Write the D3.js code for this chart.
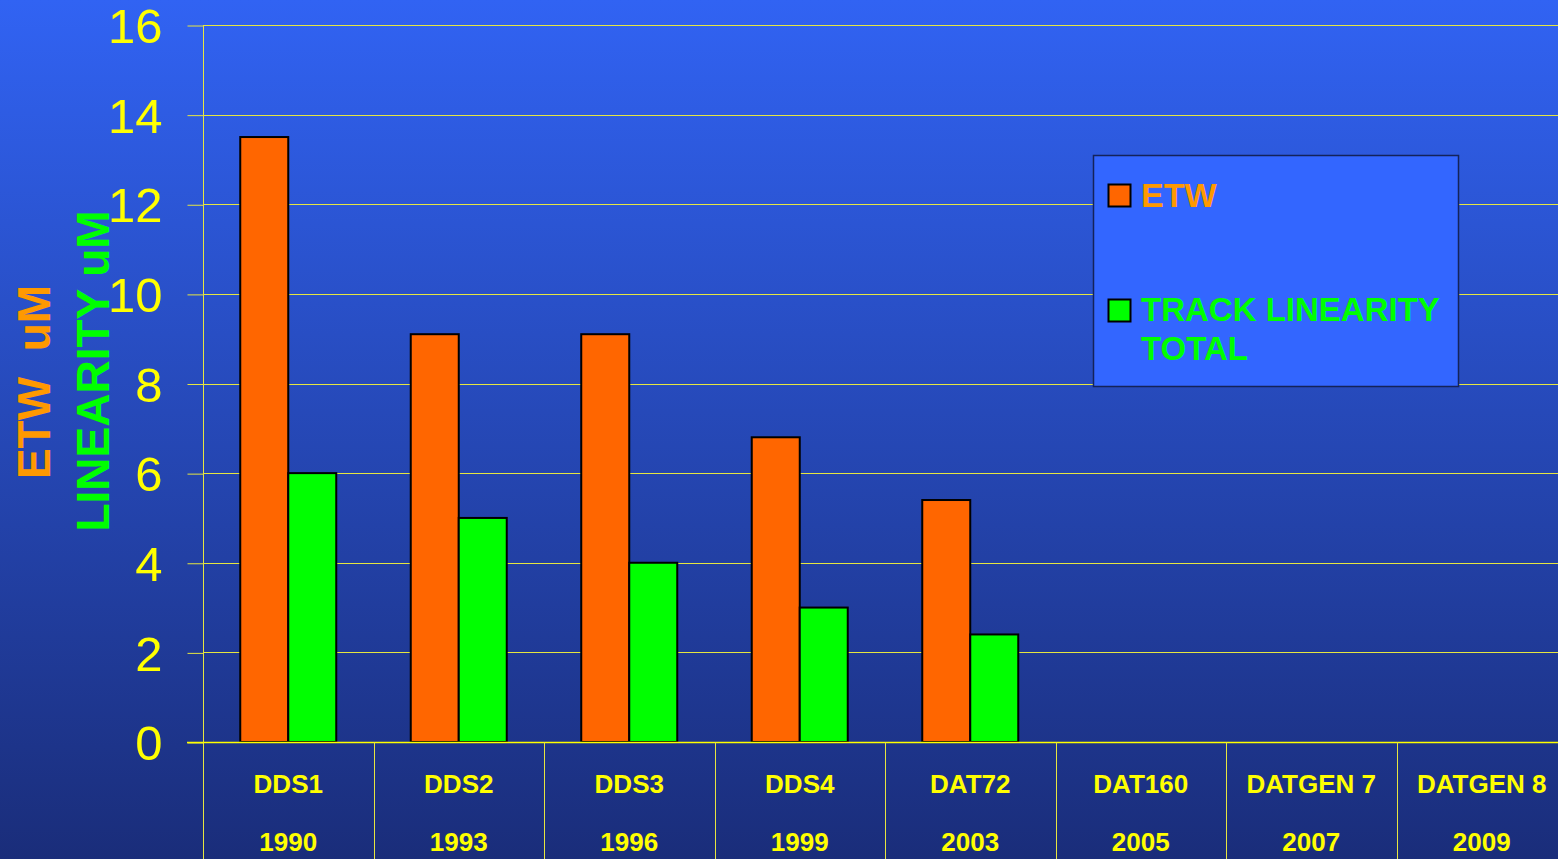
<!DOCTYPE html>
<html>
<head>
<meta charset="utf-8">
<script src="https://cdn.jsdelivr.net/npm/d3@7"></script>
<style>
  html, body { margin: 0; padding: 0; overflow: hidden; }
  svg { display: block; font-family: "Liberation Sans", Arial, sans-serif; }
</style>
</head>
<body>
<svg id="chart"></svg>
<script>
'use strict';

// chart values
const categories = ['DDS1', 'DDS2', 'DDS3', 'DDS4', 'DAT72', 'DAT160', 'DATGEN 7', 'DATGEN 8'];
const years = ['1990', '1993', '1996', '1999', '2003', '2005', '2007', '2009'];
const etw = [13.5, 9.1, 9.1, 6.8, 5.4, null, null, null];
const linearity = [6.0, 5.0, 4.0, 3.0, 2.4, null, null, null];
const yTicks = [0, 2, 4, 6, 8, 10, 12, 14, 16];
const seriesNames = ['ETW', 'TRACK LINEARITY'];
const seriesColors = ['#ff6600', '#00ff00'];

const width = 1558;
const height = 859;
const plot = { left: 203, top: 25, bottom: 742, band: 170.5 };

const svg = d3.select('#chart')
    .attr('width', width)
    .attr('height', height);

// background gradient
const grad = svg.append('defs').append('linearGradient')
    .attr('id', 'bg').attr('x1', 0).attr('y1', 0).attr('x2', 0).attr('y2', 1);
grad.append('stop').attr('offset', '0%').attr('stop-color', '#3163f3');
grad.append('stop').attr('offset', '100%').attr('stop-color', '#1a2d7a');
svg.append('rect').attr('width', width).attr('height', height).attr('fill', 'url(#bg)');

const x = d3.scaleBand()
    .domain(categories)
    .range([plot.left, plot.left + plot.band * categories.length]);

const xs = d3.scaleBand()
    .domain(seriesNames)
    .range([0, x.bandwidth()])
    .paddingOuter(0.776);

const y = d3.scaleLinear()
    .domain([0, 16])
    .range([plot.bottom, plot.top]);

// gridlines
svg.append('g').selectAll('line')
    .data(yTicks.filter(d => d > 0))
    .enter().append('line')
    .attr('x1', plot.left).attr('x2', width)
    .attr('y1', d => Math.round(y(d)) + 0.5).attr('y2', d => Math.round(y(d)) + 0.5)
    .attr('stroke', '#e6e640').attr('stroke-width', 1);

// y axis
const yAxis = d3.axisLeft(y).tickValues(yTicks).tickSize(16).tickPadding(25);
const gy = svg.append('g')
    .attr('transform', 'translate(' + (plot.left + 0.5) + ',0)')
    .call(yAxis);
gy.select('.domain').remove();
gy.selectAll('.tick line').attr('stroke', '#e6e640').attr('transform', 'translate(0,0.5)');
gy.selectAll('.tick text')
    .attr('fill', '#ffff00')
    .attr('font-size', 49)
    .attr('font-family', '"Liberation Sans", Arial, sans-serif')
    .attr('dy', '0.36em');
svg.append('line')
    .attr('x1', plot.left + 0.5).attr('x2', plot.left + 0.5)
    .attr('y1', plot.top).attr('y2', height)
    .attr('stroke', '#e6e640').attr('stroke-width', 1);

// bars
const groups = svg.append('g').selectAll('g')
    .data(categories.map((c, i) => ({ cat: c, vals: [etw[i], linearity[i]] })))
    .enter().append('g')
    .attr('transform', d => 'translate(' + x(d.cat) + ',0)');

groups.selectAll('rect')
    .data(d => d.vals.map((v, j) => ({ name: seriesNames[j], v: v, color: seriesColors[j] })).filter(e => e.v != null))
    .enter().append('rect')
    .attr('x', e => xs(e.name))
    .attr('y', e => y(e.v))
    .attr('width', xs.bandwidth())
    .attr('height', e => y(0) - y(e.v))
    .attr('fill', e => e.color)
    .attr('stroke', '#000')
    .attr('stroke-width', 2);

// x axis line and category dividers
svg.append('line')
    .attr('x1', plot.left - 16).attr('x2', width)
    .attr('y1', plot.bottom + 0.5).attr('y2', plot.bottom + 0.5)
    .attr('stroke', '#ffff00').attr('stroke-width', 1.5);

svg.append('g').selectAll('line')
    .data(categories.slice(1))
    .enter().append('line')
    .attr('x1', d => Math.round(x(d)) + 0.5).attr('x2', d => Math.round(x(d)) + 0.5)
    .attr('y1', plot.bottom).attr('y2', height)
    .attr('stroke', '#e6e640').attr('stroke-width', 1);

// category labels, two rows
const labels = svg.append('g').selectAll('g')
    .data(categories.map((c, i) => ({ cat: c, year: years[i] })))
    .enter().append('g')
    .attr('transform', d => 'translate(' + (x(d.cat) + x.bandwidth() / 2) + ',0)');
labels.append('text')
    .attr('y', 793)
    .attr('text-anchor', 'middle')
    .attr('fill', '#ffff00').attr('font-size', 26).attr('font-weight', 'bold')
    .text(d => d.cat);
labels.append('text')
    .attr('y', 851)
    .attr('text-anchor', 'middle')
    .attr('fill', '#ffff00').attr('font-size', 26).attr('font-weight', 'bold')
    .text(d => d.year);

// axis titles
svg.append('text')
    .attr('transform', 'translate(50,382) rotate(-90)')
    .attr('text-anchor', 'middle')
    .attr('fill', '#ff9900').attr('font-size', 46).attr('font-weight', 'bold')
    .attr('xml:space', 'preserve')
    .text('ETW  uM');
svg.append('text')
    .attr('transform', 'translate(109,371) rotate(-90)')
    .attr('text-anchor', 'middle')
    .attr('fill', '#00ff00').attr('font-size', 46).attr('font-weight', 'bold')
    .text('LINEARITY uM');

// legend
const legend = svg.append('g').attr('transform', 'translate(1093,155)');
legend.append('rect')
    .attr('x', 0.5).attr('y', 0.5).attr('width', 365).attr('height', 231)
    .attr('fill', '#3366ff').attr('stroke', '#14235a').attr('stroke-width', 1.5);

legend.append('rect')
    .attr('x', 15.5).attr('y', 29.5).attr('width', 22).attr('height', 22)
    .attr('fill', seriesColors[0]).attr('stroke', '#000').attr('stroke-width', 2);
legend.append('text')
    .attr('x', 48).attr('y', 52)
    .attr('fill', '#ff9900').attr('font-size', 34).attr('font-weight', 'bold')
    .text('ETW');

legend.append('rect')
    .attr('x', 15.5).attr('y', 144.5).attr('width', 22).attr('height', 22)
    .attr('fill', seriesColors[1]).attr('stroke', '#000').attr('stroke-width', 2);
const lt = legend.append('text')
    .attr('fill', '#00ff00').attr('font-size', 33).attr('font-weight', 'bold');
lt.append('tspan').attr('x', 48).attr('y', 166).text('TRACK LINEARITY');
lt.append('tspan').attr('x', 48).attr('y', 205).text('TOTAL');
</script>
</body>
</html>
